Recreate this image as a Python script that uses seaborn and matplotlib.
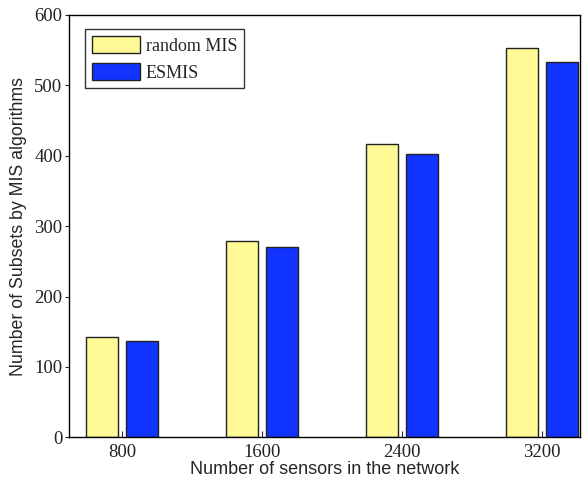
import pandas as pd
import matplotlib
matplotlib.use('Agg')
import matplotlib.pyplot as plt
import seaborn as sns

# data
sensors = ['800', '1600', '2400', '3200']
random_mis = [142, 279, 416, 553]
esmis = [137, 271, 402, 533]
series_names = ['random MIS', 'ESMIS']
bar_colors = ['#FFFA96', '#1234FF']

df = pd.DataFrame({
    'Sensors': sensors * 2,
    'Subsets': random_mis + esmis,
    'Algorithm': [series_names[0]] * len(sensors) + [series_names[1]] * len(sensors),
})

sns.set_style('white')
serif = ['Liberation Serif', 'DejaVu Serif']
sans = ['Liberation Sans', 'DejaVu Sans']

fig = plt.figure(figsize=(5.85, 4.83), dpi=100)
ax = fig.add_axes([0.1185, 0.0946, 0.8730, 0.8744])

sns.barplot(data=df, x='Sensors', y='Subsets', hue='Algorithm',
            palette=bar_colors, width=0.572, gap=0.2,
            edgecolor='#222222', linewidth=1.0, saturation=1, ax=ax)

ax.set_xlim(-0.376, 3.27)
ax.set_ylim(0, 600)
ax.set_yticks(range(0, 601, 100))

for side in ['top', 'right', 'left', 'bottom']:
    ax.spines[side].set_visible(True)
    ax.spines[side].set_color('black')
    ax.spines[side].set_linewidth(1.0)

ax.tick_params(axis='x', direction='in', length=4, width=0.8, pad=5, top=False, bottom=True)
ax.tick_params(axis='y', direction='out', length=3, width=0.8, pad=2, left=True)
for lbl in ax.get_xticklabels() + ax.get_yticklabels():
    lbl.set_family(serif)
    lbl.set_fontsize(13.5)
    lbl.set_color('#222222')

ax.set_xlabel('Number of sensors in the network', family=sans, fontsize=13, labelpad=0)
ax.set_ylabel('Number of Subsets by MIS algorithms', family=sans, fontsize=12.8, labelpad=5)

leg = ax.legend(loc='upper left', bbox_to_anchor=(0.031, 0.967), frameon=True,
                fancybox=False, prop={'family': serif, 'size': 13},
                handlelength=2.67, handleheight=1.1, handletextpad=0.32,
                borderpad=0.38, labelspacing=0.45, borderaxespad=0)
leg.get_frame().set_edgecolor('black')
leg.get_frame().set_linewidth(1.0)

fig.savefig('out.png', dpi=100)
